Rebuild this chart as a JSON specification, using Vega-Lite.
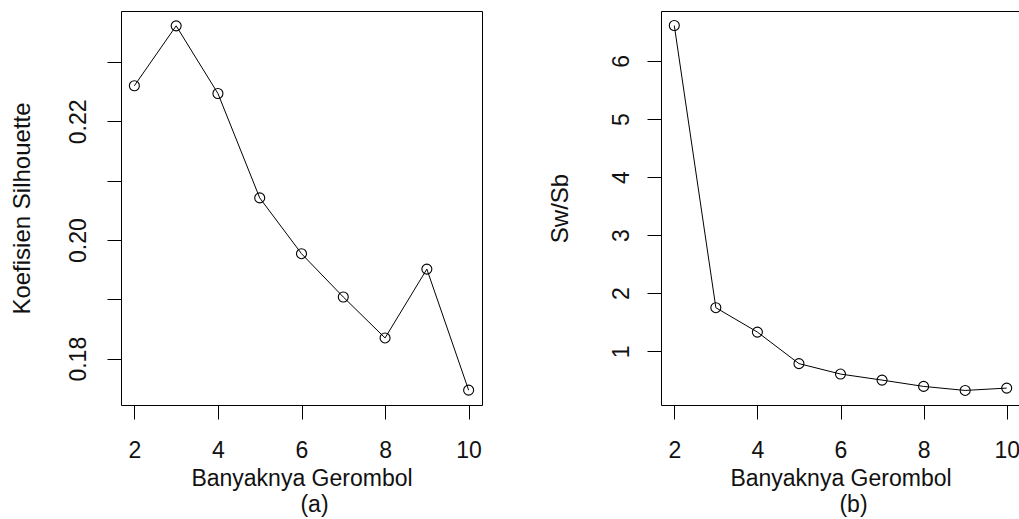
{
  "$schema": "https://vega.github.io/schema/vega-lite/v6.json",
  "padding": {"left": 9, "top": 10, "right": 0, "bottom": 0},
  "background": "white",
  "spacing": 64,
  "datasets": {
    "clusters": [
      {"k": 2, "silhouette": 0.2260, "swsb": 6.61},
      {"k": 3, "silhouette": 0.2361, "swsb": 1.75},
      {"k": 4, "silhouette": 0.2247, "swsb": 1.33},
      {"k": 5, "silhouette": 0.2071, "swsb": 0.787},
      {"k": 6, "silhouette": 0.1977, "swsb": 0.607},
      {"k": 7, "silhouette": 0.1904, "swsb": 0.503},
      {"k": 8, "silhouette": 0.1835, "swsb": 0.394},
      {"k": 9, "silhouette": 0.1951, "swsb": 0.325},
      {"k": 10, "silhouette": 0.1747, "swsb": 0.365}
    ]
  },
  "config": {
    "font": "Liberation Sans",
    "view": {"stroke": "black", "strokeWidth": 1},
    "title": {
      "font": "Liberation Sans",
      "fontSize": 23,
      "fontWeight": "normal",
      "color": "#111111",
      "orient": "bottom",
      "anchor": "middle",
      "offset": 4,
      "dx": 13
    },
    "axis": {
      "domain": false,
      "grid": false,
      "ticks": true,
      "tickColor": "black",
      "tickWidth": 1,
      "tickSize": 14,
      "labelFont": "Liberation Sans",
      "labelFontSize": 23,
      "labelColor": "#111111",
      "titleFont": "Liberation Sans",
      "titleFontSize": 23,
      "titleFontWeight": "normal",
      "titleColor": "#111111",
      "labelFlush": false,
      "labelOverlap": false
    },
    "axisY": {"titleFontSize": 24}
  },
  "hconcat": [
    {
      "width": 361,
      "height": 394,
      "title": "(a)",
      "data": {"name": "clusters"},
      "encoding": {
        "x": {
          "field": "k",
          "type": "quantitative",
          "scale": {"domain": [1.68, 10.32], "nice": false, "zero": false},
          "axis": {
            "values": [2, 4, 6, 8, 10],
            "labelPadding": 20,
            "titlePadding": 5,
            "title": "Banyaknya Gerombol"
          }
        },
        "y": {
          "field": "silhouette",
          "type": "quantitative",
          "scale": {"domain": [0.1722, 0.2386], "nice": false, "zero": false},
          "axis": {
            "values": [0.18, 0.19, 0.2, 0.21, 0.22, 0.23],
            "labelExpr": "round(datum.value*100) % 2 == 0 ? format(datum.value, '.2f') : ''",
            "labelAngle": 270,
            "labelAlign": "center",
            "labelBaseline": "bottom",
            "labelPadding": 17,
            "titlePadding": 33,
            "title": "Koefisien Silhouette"
          }
        }
      },
      "layer": [
        {"mark": {"type": "line", "color": "black", "strokeWidth": 1}},
        {"mark": {"type": "point", "shape": "circle", "filled": false, "color": "black", "strokeWidth": 1.1, "size": 100, "opacity": 1}}
      ]
    },
    {
      "width": 359,
      "height": 394,
      "title": "(b)",
      "data": {"name": "clusters"},
      "encoding": {
        "x": {
          "field": "k",
          "type": "quantitative",
          "scale": {"domain": [1.68, 10.32], "nice": false, "zero": false},
          "axis": {
            "values": [2, 4, 6, 8, 10],
            "labelPadding": 20,
            "titlePadding": 5,
            "title": "Banyaknya Gerombol"
          }
        },
        "y": {
          "field": "swsb",
          "type": "quantitative",
          "scale": {"domain": [0.074, 6.86], "nice": false, "zero": false},
          "axis": {
            "values": [1, 2, 3, 4, 5, 6],
            "format": "d",
            "labelAngle": 270,
            "labelAlign": "center",
            "labelBaseline": "bottom",
            "labelPadding": 14,
            "titlePadding": 38,
            "title": "Sw/Sb"
          }
        }
      },
      "layer": [
        {"mark": {"type": "line", "color": "black", "strokeWidth": 1}},
        {"mark": {"type": "point", "shape": "circle", "filled": false, "color": "black", "strokeWidth": 1.1, "size": 100, "opacity": 1}}
      ]
    }
  ]
}
